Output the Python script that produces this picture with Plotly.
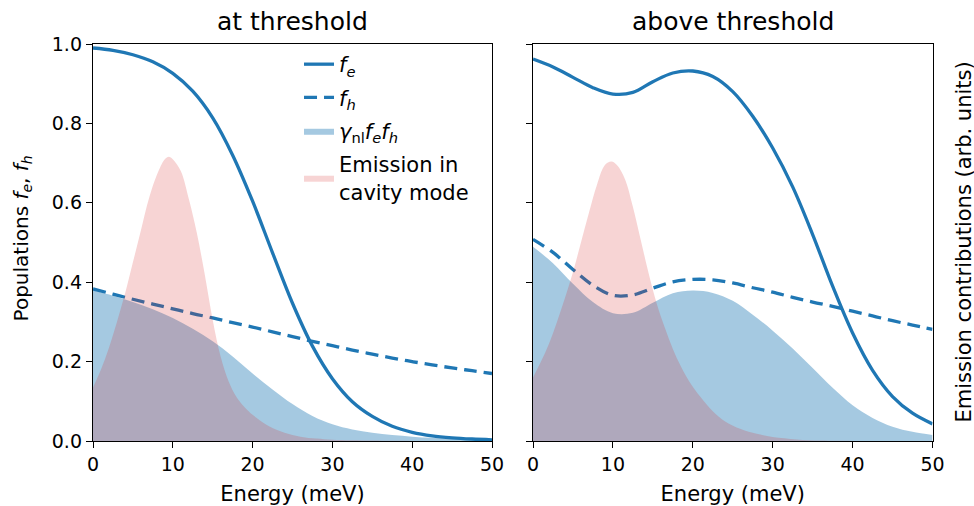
import plotly.graph_objects as go

# ---------------- data ----------------
energy = [0, 2.5, 5, 7.5, 10, 12.5, 15, 17.5, 20, 22.5, 25, 27.5, 30, 32.5,
          35, 37.5, 40, 42.5, 45, 47.5, 50]

# left panel: at threshold
fe_at = [0.990, 0.984, 0.973, 0.955, 0.926, 0.881, 0.814, 0.720, 0.604, 0.474,
         0.347, 0.239, 0.157, 0.099, 0.062, 0.037, 0.022, 0.013, 0.008, 0.005, 0.003]
fh_at = [0.383, 0.370, 0.357, 0.345, 0.333, 0.321, 0.310, 0.298, 0.287, 0.275,
         0.263, 0.251, 0.240, 0.229, 0.219, 0.209, 0.200, 0.192, 0.184, 0.177, 0.170]
gain_at = [0.379, 0.366, 0.350, 0.332, 0.310, 0.283, 0.251, 0.213, 0.170, 0.130,
           0.093, 0.063, 0.042, 0.029, 0.021, 0.015, 0.011, 0.008, 0.006, 0.005, 0.004]

em_energy_at = [0, 1, 2, 3, 4, 5, 6, 7, 8, 9, 9.5, 10, 11, 12, 13, 14, 15, 16,
                17, 18, 19, 20, 22, 24, 26, 28, 30, 35, 40, 50]
em_at = [0.135, 0.18, 0.235, 0.30, 0.37, 0.45, 0.53, 0.61, 0.67, 0.71, 0.716,
         0.71, 0.68, 0.61, 0.525, 0.42, 0.305, 0.212, 0.150, 0.110, 0.085, 0.066,
         0.038, 0.021, 0.011, 0.006, 0.003, 0.001, 0.0, 0.0]

# right panel: above threshold
fe_above = [0.962, 0.942, 0.916, 0.890, 0.874, 0.878, 0.905, 0.927, 0.932, 0.918,
            0.880, 0.818, 0.738, 0.640, 0.520, 0.390, 0.272, 0.178, 0.112, 0.070, 0.043]
fh_above = [0.508, 0.475, 0.432, 0.392, 0.367, 0.368, 0.385, 0.401, 0.407, 0.406,
            0.398, 0.386, 0.375, 0.362, 0.350, 0.339, 0.327, 0.315, 0.303, 0.292, 0.281]
gain_above = [0.489, 0.448, 0.396, 0.350, 0.322, 0.323, 0.348, 0.372, 0.379, 0.373,
              0.353, 0.318, 0.278, 0.233, 0.184, 0.134, 0.090, 0.058, 0.036, 0.023, 0.015]

em_energy_above = [0, 1, 2, 3, 4, 5, 6, 7, 8, 9, 9.8, 10.5, 11.5, 12.5, 13.5, 14.5,
                   15.5, 16.5, 17.5, 18.5, 19.5, 21, 22.5, 24, 26, 28, 30, 33, 36, 40, 50]
em_above = [0.16, 0.20, 0.245, 0.30, 0.36, 0.425, 0.50, 0.575, 0.645, 0.695, 0.704,
            0.695, 0.66, 0.59, 0.505, 0.42, 0.345, 0.285, 0.232, 0.188, 0.152, 0.110,
            0.075, 0.050, 0.030, 0.018, 0.010, 0.004, 0.001, 0.0, 0.0]

x_ticks = [0, 10, 20, 30, 40, 50]
y_ticks = [0.0, 0.2, 0.4, 0.6, 0.8, 1.0]

panel_titles = ["at threshold", "above threshold"]
legend_names = ["<i>f</i><sub><i>e</i></sub>",
                "<i>f</i><sub><i>h</i></sub>",
                "<i>γ</i><sub>nl</sub><i>f</i><sub><i>e</i></sub><i>f</i><sub><i>h</i></sub>",
                "Emission in<br>cavity mode"]
left_ylabel = "Populations <i>f</i><sub><i>e</i></sub>, <i>f</i><sub><i>h</i></sub>"
right_ylabel = "Emission contributions (arb. units)"
x_label = "Energy (meV)"

# ---------------- styling ----------------
C0 = "#1f77b4"
BLUE_FILL = "rgba(31,119,180,0.4)"
PINK_FILL = "rgba(214,39,40,0.2)"
FONT = "DejaVu Sans"
TICK_SIZE = 19
LABEL_SIZE = 21

fig = go.Figure()

panels = [
    ("x", "y", fe_at, fh_at, gain_at, em_energy_at, em_at, True),
    ("x2", "y2", fe_above, fh_above, gain_above, em_energy_above, em_above, False),
]
for xa, ya, fe, fh, gain, em_x, em, show in panels:
    fig.add_trace(go.Scatter(x=energy, y=fe, mode="lines", name=legend_names[0],
                             legendgroup="g0",
                             line=dict(color=C0, width=3.3, shape="spline", smoothing=1),
                             xaxis=xa, yaxis=ya, showlegend=show))
    fig.add_trace(go.Scatter(x=energy, y=fh, mode="lines", name=legend_names[1],
                             legendgroup="g1",
                             line=dict(color=C0, width=3.3, dash="13px,7px",
                                       shape="spline", smoothing=1),
                             xaxis=xa, yaxis=ya, showlegend=show))
    fig.add_trace(go.Scatter(x=energy, y=gain, mode="lines", name=legend_names[2],
                             legendgroup="g2",
                             fill="tozeroy", fillcolor=BLUE_FILL,
                             line=dict(width=0, color=BLUE_FILL, shape="spline", smoothing=1),
                             xaxis=xa, yaxis=ya, showlegend=show))
    fig.add_trace(go.Scatter(x=em_x, y=em, mode="lines", name=legend_names[3],
                             legendgroup="g3",
                             fill="tozeroy", fillcolor=PINK_FILL,
                             line=dict(width=0, color=PINK_FILL, shape="spline", smoothing=1),
                             xaxis=xa, yaxis=ya, showlegend=show))

axis_common = dict(showline=True, linecolor="black", linewidth=1.4, mirror=True,
                   ticks="outside", ticklen=6, tickwidth=1.3, tickcolor="black",
                   showgrid=False, zeroline=False, automargin=False,
                   tickfont=dict(family=FONT, size=TICK_SIZE, color="black"))

W, H = 974, 506
left_dom = [93 / W, 492 / W]
right_dom = [533 / W, 932.5 / W]
y_dom = [1 - 441 / H, 1 - 44 / H]

fig.update_layout(
    template="none",
    width=W, height=H,
    margin=dict(l=0, r=0, t=0, b=0, pad=0),
    paper_bgcolor="white", plot_bgcolor="white",
    font=dict(family=FONT, size=TICK_SIZE, color="black"),
    xaxis=dict(domain=left_dom, range=[0, 50], tickvals=x_ticks, anchor="y",
               title=dict(text=x_label,
                          font=dict(family=FONT, size=LABEL_SIZE)), **axis_common),
    yaxis=dict(domain=y_dom, range=[0, 1], tickvals=y_ticks, tickformat=".1f", anchor="x",
               **axis_common),
    xaxis2=dict(domain=right_dom, range=[0, 50], tickvals=x_ticks, anchor="y2",
                title=dict(text=x_label,
                           font=dict(family=FONT, size=LABEL_SIZE)), **axis_common),
    yaxis2=dict(domain=y_dom, range=[0, 1], tickvals=y_ticks, anchor="x2",
                showticklabels=False, **axis_common),
    legend=dict(x=0.307, y=0.913, xanchor="left", yanchor="top",
                bgcolor="rgba(255,255,255,0)", borderwidth=0,
                font=dict(family=FONT, size=LABEL_SIZE, color="black"),
                tracegroupgap=3, itemwidth=30, valign="middle"),
    showlegend=True,
)

# panel titles
for dom, title in zip([left_dom, right_dom], panel_titles):
    fig.add_annotation(text=title, x=(dom[0] + dom[1]) / 2, y=y_dom[1],
                       xref="paper", yref="paper", xanchor="center", yanchor="bottom",
                       yshift=6, showarrow=False,
                       font=dict(family=FONT, size=25, color="black"))

# left-hand axis label
fig.add_annotation(text=left_ylabel, x=22 / W,
                   y=(y_dom[0] + y_dom[1]) / 2 + 0.008, xref="paper", yref="paper",
                   xanchor="center", yanchor="middle", textangle=-90, showarrow=False,
                   font=dict(family=FONT, size=20, color="black"))

# right-hand axis label
fig.add_annotation(text=right_ylabel, x=963 / W,
                   y=(y_dom[0] + y_dom[1]) / 2, xref="paper", yref="paper",
                   xanchor="center", yanchor="middle", textangle=-90, showarrow=False,
                   font=dict(family=FONT, size=21, color="black"))

fig.write_html("out.html")
